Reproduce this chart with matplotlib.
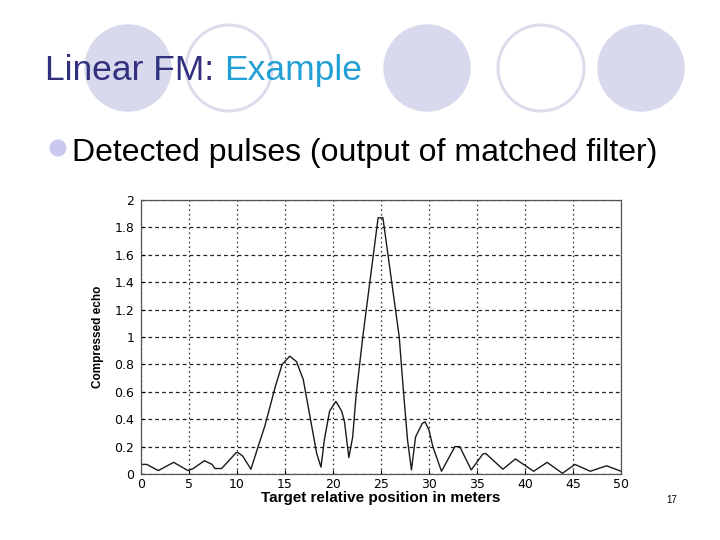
import matplotlib
matplotlib.use("Agg")
import matplotlib.pyplot as plt
from matplotlib.patches import Ellipse

# ---- data ----
position = [0.0, 0.6, 1.8, 3.4, 4.9, 5.45, 6.6, 7.4, 7.7, 8.4, 9.9, 10.1, 10.6,
            11.45, 12.2, 12.9, 14.0, 14.7, 15.5, 16.2, 16.9, 17.6, 18.3, 18.75,
            19.1, 19.65, 20.3, 20.9, 21.2, 21.65, 22.05, 22.4, 23.1, 24.0, 24.7,
            25.2, 26.0, 26.9, 27.24, 27.76, 28.17, 28.6, 29.3, 29.6, 30.0, 30.4,
            31.3, 32.7, 33.2, 34.4, 35.6, 35.9, 37.7, 39.0, 40.9, 42.3, 43.9,
            45.2, 46.8, 48.5, 50.0]
echo = [0.07, 0.07, 0.025, 0.085, 0.025, 0.04, 0.097, 0.07, 0.04, 0.04, 0.155,
        0.157, 0.13, 0.035, 0.2, 0.35, 0.64, 0.80, 0.86, 0.82, 0.69, 0.42, 0.15,
        0.05, 0.25, 0.46, 0.53, 0.46, 0.38, 0.12, 0.27, 0.57, 1.0, 1.49, 1.87,
        1.87, 1.46, 1.0, 0.69, 0.25, 0.03, 0.27, 0.37, 0.38, 0.32, 0.2, 0.02,
        0.20, 0.20, 0.03, 0.145, 0.15, 0.035, 0.11, 0.02, 0.085, 0.005, 0.07,
        0.02, 0.06, 0.02]
xticks = [0, 5, 10, 15, 20, 25, 30, 35, 40, 45, 50]
yticks = [0, 0.2, 0.4, 0.6, 0.8, 1, 1.2, 1.4, 1.6, 1.8, 2]
ytick_labels = ["0", "0.2", "0.4", "0.6", "0.8", "1", "1.2", "1.4", "1.6", "1.8", "2"]
title_part1 = "Linear FM: "
title_part2 = "Example"
bullet_text = "Detected pulses (output of matched filter)"
xlabel = "Target relative position in meters"
ylabel = "Compressed echo"
page_number = "17"

W, H = 720, 540
fig = plt.figure(figsize=(7.2, 5.4), dpi=100)
fig.patch.set_facecolor("white")

def fx(px):
    return px / W

def fy(py):
    return 1 - py / H

# ---- decorative circles ----
lav = "#d9d9ee"
circles = [(128, 68, True), (229, 68, False), (427, 68, True), (541, 68, False), (641, 68, True)]
r = 43
for cx, cy, filled in circles:
    if filled:
        e = Ellipse((fx(cx), fy(cy)), 2 * r / W, 2 * r / H, transform=fig.transFigure,
                    facecolor=lav, edgecolor=lav, lw=1, zorder=0)
    else:
        e = Ellipse((fx(cx), fy(cy)), 2 * r / W, 2 * r / H, transform=fig.transFigure,
                    facecolor="white", edgecolor="#dcdcec", lw=2.2, zorder=0)
    fig.add_artist(e)

# ---- title ----
tfont = ["Liberation Sans", "DejaVu Sans"]
t1 = fig.text(fx(45), fy(80), title_part1, fontsize=25.5, color="#30307f",
              family=tfont, va="baseline", ha="left", zorder=2)
fig.canvas.draw()
bb = t1.get_window_extent(renderer=fig.canvas.get_renderer())
fig.text(bb.x1 / W, fy(80), title_part2, fontsize=25.5, color="#22a0d6",
         family=tfont, va="baseline", ha="left", zorder=2)

# ---- bullet ----
fig.add_artist(Ellipse((fx(58), fy(148)), 17 / W, 17 / H, transform=fig.transFigure,
                       facecolor="#c8c8f0", edgecolor="none", zorder=1))
fig.text(fx(72), fy(161), bullet_text, fontsize=23, color="black",
         family=tfont, va="baseline", ha="left")

# ---- page number ----
fig.text(fx(672), fy(500), page_number, fontsize=7, color="black",
         family=tfont, va="center", ha="center")

# ---- chart ----
ax = fig.add_axes([141 / W, 1 - 474 / H, 480 / W, 274 / H])
ax.plot(position, echo, color="#1a1a1a", lw=1.0)
ax.set_xlim(0, 50)
ax.set_ylim(0, 2)
ax.set_xticks(xticks)
ax.set_yticks(yticks)
ax.set_yticklabels(ytick_labels)
ax.tick_params(direction="in", length=3, labelsize=9, colors="black")
ax.tick_params(axis="x", pad=3)
ax.tick_params(axis="y", pad=5)
for lab in ax.get_xticklabels() + ax.get_yticklabels():
    lab.set_family("DejaVu Sans")
ax.xaxis.grid(True, color="#222", linestyle=(0, (1.2, 2.5)), lw=0.9)
ax.yaxis.grid(True, color="#222", linestyle=(0, (3, 2.5)), lw=0.9)
for s in ax.spines.values():
    s.set_color("#555")
    s.set_linewidth(0.9)
ax.set_xlabel(xlabel, fontsize=11, fontweight="bold", family=["Liberation Sans", "DejaVu Sans"],
              labelpad=0)
ax.set_ylabel(ylabel, fontsize=8.5, fontweight="bold",
              family=["Liberation Sans", "DejaVu Sans"], labelpad=7)

fig.savefig("out.png", dpi=100)
